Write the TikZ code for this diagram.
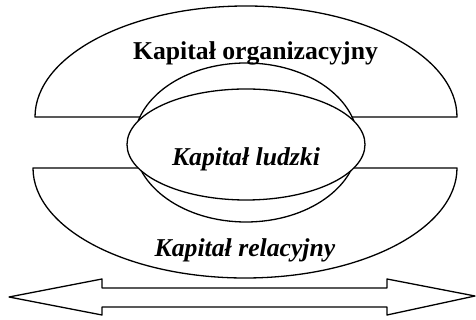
\documentclass[tikz,border=0pt]{standalone}
\usepackage{fontspec}
\setmainfont{Liberation Serif}
\begin{document}
\begin{tikzpicture}[x=1pt,y=1pt,
  outline/.style={draw=black,line width=1.3pt,fill=white,line join=round},
  label/.style={font=\fontsize{25.7}{30}\selectfont\bfseries,anchor=base,inner sep=0pt}]
\useasboundingbox (0,0) rectangle (476,320);
% upper half-ellipse (organizational capital)
\draw[outline] (35,203) arc[start angle=180,end angle=0,x radius=211,y radius=111] -- cycle;
% lower half-ellipse (relational capital)
\draw[outline] (33,152) arc[start angle=180,end angle=360,x radius=212,y radius=110] -- cycle;
% rear ellipse behind the centre
\draw[outline] (246,177.5) ellipse[x radius=112,y radius=79.5];
% front ellipse (human capital)
\draw[outline] (246,175.5) ellipse[x radius=119,y radius=55.5];
\node[label] (org) at (255.5,260) {Kapitał organizacyjny};
\node[label,font=\fontsize{25.7}{30}\selectfont\bfseries\itshape] (hum) at (246,154) {Kapitał ludzki};
\node[label,font=\fontsize{25.7}{30}\selectfont\bfseries\itshape] (rel) at (245,63) {Kapitał relacyjny};
% double-headed arrow
\draw[outline] (9,23) -- (102,41) -- (102,32) -- (387,32) -- (387,41) -- (475,24)
  -- (387,5) -- (387,13) -- (102,13) -- (102,5) -- cycle;
\end{tikzpicture}
\end{document}
